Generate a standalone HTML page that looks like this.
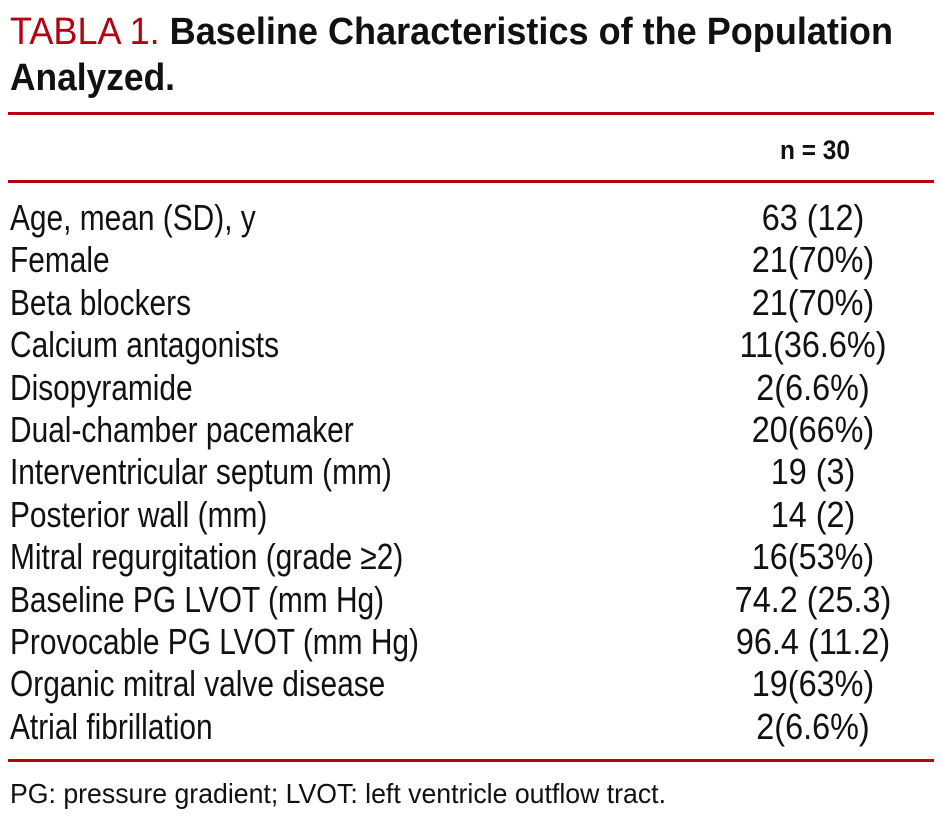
<!DOCTYPE html>
<html><head><meta charset="utf-8"><style>
html,body{margin:0;padding:0;background:#fff;width:942px;height:823px;overflow:hidden}
text{font-family:"Liberation Sans",Arial,sans-serif;fill:#111}
.b{font-weight:bold}
.r{fill:#b5000f}
</style></head><body>
<svg width="942" height="823" xmlns="http://www.w3.org/2000/svg">
<text x="10" y="44" font-size="38" textLength="883" lengthAdjust="spacingAndGlyphs"><tspan class="r">TABLA 1. </tspan><tspan class="b">Baseline Characteristics of the Population</tspan></text>
<text x="10" y="90" font-size="38" class="b" textLength="165" lengthAdjust="spacingAndGlyphs">Analyzed.</text>
<rect x="8" y="112" width="926" height="3" fill="#b5000f"/>
<text x="780" y="159" font-size="27" class="b" textLength="70" lengthAdjust="spacingAndGlyphs">n = 30</text>
<rect x="8" y="180" width="926" height="3" fill="#b5000f"/>
<g font-size="36" transform="translate(10,0) scale(0.83,1)">
<text x="0" y="230">Age, mean (SD), y</text>
<text x="0" y="272">Female</text>
<text x="0" y="315">Beta blockers</text>
<text x="0" y="357">Calcium antagonists</text>
<text x="0" y="400">Disopyramide</text>
<text x="0" y="442">Dual-chamber pacemaker</text>
<text x="0" y="484">Interventricular septum (mm)</text>
<text x="0" y="527">Posterior wall (mm)</text>
<text x="0" y="569">Mitral regurgitation (grade ≥2)</text>
<text x="0" y="612">Baseline PG LVOT (mm Hg)</text>
<text x="0" y="654">Provocable PG LVOT (mm Hg)</text>
<text x="0" y="696">Organic mitral valve disease</text>
<text x="0" y="739">Atrial fibrillation</text>
</g>
<g font-size="36" text-anchor="middle" transform="translate(813,0) scale(0.9,1)">
<text x="0" y="230">63 (12)</text>
<text x="0" y="272">21(70%)</text>
<text x="0" y="315">21(70%)</text>
<text x="0" y="357">11(36.6%)</text>
<text x="0" y="400">2(6.6%)</text>
<text x="0" y="442">20(66%)</text>
<text x="0" y="484">19 (3)</text>
<text x="0" y="527">14 (2)</text>
<text x="0" y="569">16(53%)</text>
<text x="0" y="612">74.2 (25.3)</text>
<text x="0" y="654">96.4 (11.2)</text>
<text x="0" y="696">19(63%)</text>
<text x="0" y="739">2(6.6%)</text>
</g>
<rect x="8" y="759" width="926" height="3" fill="#b5000f"/>
<text x="10" y="803" font-size="28" textLength="656" lengthAdjust="spacingAndGlyphs">PG: pressure gradient; LVOT: left ventricle outflow tract.</text>
</svg>
</body></html>
